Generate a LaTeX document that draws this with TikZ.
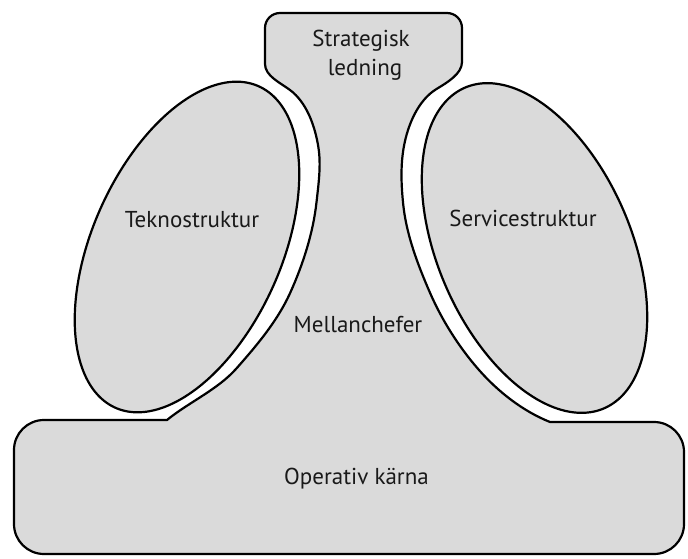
\documentclass[tikz,border=0pt]{standalone}
\usepackage{fontspec}
\setmainfont{PT Sans}
\definecolor{shapegray}{RGB}{218,218,218}
\tikzset{
  shapestyle/.style={fill=shapegray, draw=black, line width=2.2pt, line join=round},
  lbl/.style={font=\fontsize{23}{29}\selectfont, inner sep=0pt, anchor=base, text=black!90},
}
\begin{document}
\begin{tikzpicture}[x=1pt,y=-1pt]
\useasboundingbox (0,0) rectangle (688,559);
% strategic apex, middle line and operating core as one outline
\draw[shapestyle] (265,64) -- (265,28) .. controls (265,19.7) and (271.7,13) .. (280,13)
  -- (447,13) .. controls (455.3,13) and (462,19.7) .. (462,28) -- (462,62)
  .. controls (462,74) and (446.7,82.8) .. (436.5,89)
  .. controls (417.8,100.4) and (407.7,125.3) .. (403.8,146.9)
  .. controls (400.5,165.6) and (401.2,184.4) .. (403.1,203.3)
  .. controls (406.1,234.1) and (417.7,264.6) .. (430.1,293)
  .. controls (442.1,320.5) and (459.2,347.5) .. (479,370)
  .. controls (498.2,391.8) and (522.7,411.1) .. (550,422)
  -- (654,422) .. controls (670.6,422) and (684,435.4) .. (684,452)
  -- (684,524) .. controls (684,540.6) and (670.6,554) .. (654,554)
  -- (44,554) .. controls (27.4,554) and (14,540.6) .. (14,524)
  -- (14,450) .. controls (14,433.4) and (27.4,420) .. (44,420)
  -- (167,420)
  .. controls (188.7,402.3) and (217.9,389.5) .. (236.4,368.5)
  .. controls (256.9,345.3) and (277.6,320.8) .. (290.3,292.6)
  .. controls (303,264.4) and (313.1,233) .. (316.5,202.3)
  .. controls (318.5,184) and (321.3,165) .. (318.3,146.7)
  .. controls (314.9,125.9) and (306.8,102.6) .. (290,90)
  .. controls (280.4,82.8) and (265,76) .. (265,64)
  -- cycle;
% technostructure
\draw[shapestyle] plot[domain=0:360, samples=200, variable=\t]
  ({187+71.58*cos(\t)+86.5*sin(\t)}, {247-160.78*cos(\t)+38.5*sin(\t)}) -- cycle;
% support staff
\draw[shapestyle] plot[domain=0:360, samples=200, variable=\t]
  ({534.5-69.69*cos(\t)+88.6*sin(\t)}, {248-160.3*cos(\t)-38.5*sin(\t)}) -- cycle;
% labels
\node[lbl] (apex1) at (361,47) {Strategisk};
\node[lbl] (apex2) at (365,76) {ledning};
\node[lbl] (tekno) at (192,227) {Teknostruktur};
\node[lbl] (service) at (523,226) {Servicestruktur};
\node[lbl] (mellan) at (358,332) {Mellanchefer};
\node[lbl] (core) at (356.5,484) {Operativ kärna};
\end{tikzpicture}
\end{document}
